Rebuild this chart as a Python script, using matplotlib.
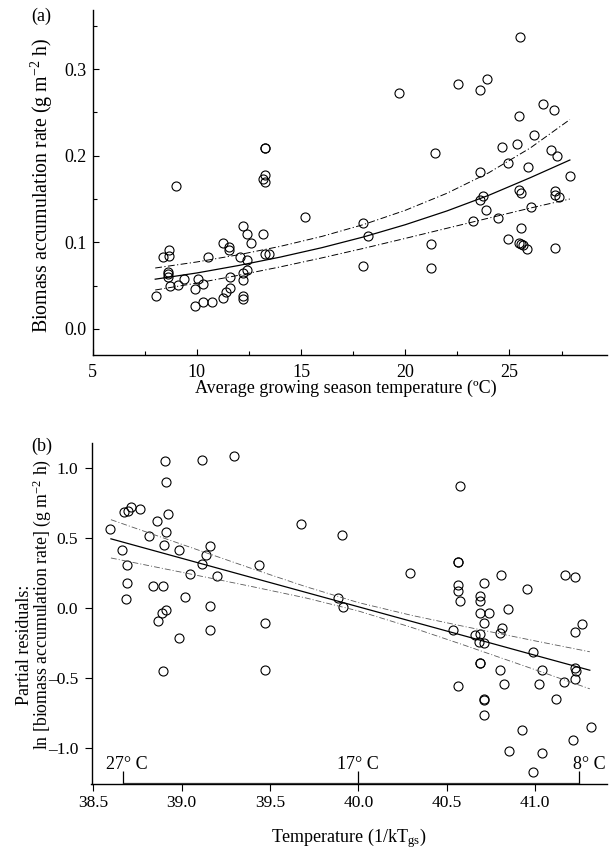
import numpy as np
import matplotlib
matplotlib.use('Agg')
import matplotlib.pyplot as plt
from matplotlib.ticker import MultipleLocator, FuncFormatter

plt.rcParams['font.family'] = ['Liberation Serif', 'DejaVu Serif']
plt.rcParams['mathtext.fontset'] = 'custom'
plt.rcParams['mathtext.rm'] = 'Liberation Serif'
plt.rcParams['mathtext.it'] = 'Liberation Serif:italic'
plt.rcParams['font.size'] = 13

# ---- panel (a): biomass accumulation rate vs growing season temperature
temp_a = [9.01, 13.28, 13.28, 13.28, 13.16, 13.28, 25.50, 19.68, 22.54, 23.93,
          23.60, 26.59, 27.12, 25.47, 26.19, 24.64, 25.37, 21.44, 26.99, 27.29,
          24.91, 23.60, 25.89, 27.92, 25.47, 25.55, 27.20, 27.20, 27.39, 23.74,
          23.60, 17.97, 18.20, 23.87, 23.23, 24.43, 26.05, 25.57, 24.91, 25.47,
          25.57, 25.66, 25.82, 27.20, 21.23, 17.97, 21.23, 15.20, 12.23, 12.40,
          13.17, 11.25, 11.53, 11.53, 12.60, 8.65, 8.36, 8.65, 10.52, 12.07,
          13.25, 13.48, 12.42, 8.63, 8.63, 8.63, 12.23, 12.40, 9.38, 10.05,
          11.60, 10.28, 8.73, 9.09, 12.23, 9.92, 11.60, 11.41, 11.25, 12.23,
          12.23, 8.04, 9.92, 10.29, 10.74]
rate_a = [0.1645, 0.209, 0.209, 0.178, 0.173, 0.170, 0.337, 0.2725, 0.283, 0.288,
          0.276, 0.260, 0.253, 0.246, 0.224, 0.210, 0.213, 0.2035, 0.207, 0.1997,
          0.192, 0.1815, 0.1865, 0.176, 0.160, 0.157, 0.159, 0.155, 0.152, 0.153,
          0.149, 0.122, 0.1075, 0.1376, 0.125, 0.128, 0.1407, 0.117, 0.104, 0.099,
          0.098, 0.097, 0.092, 0.0936, 0.098, 0.073, 0.070, 0.1287, 0.119, 0.1095,
          0.1095, 0.099, 0.095, 0.091, 0.099, 0.091, 0.083, 0.084, 0.083, 0.0825,
          0.0867, 0.0867, 0.079, 0.066, 0.0636, 0.060, 0.065, 0.068, 0.058, 0.058,
          0.0605, 0.052, 0.0497, 0.0505, 0.0566, 0.046, 0.047, 0.043, 0.036, 0.038,
          0.0347, 0.038, 0.026, 0.031, 0.031]

# fitted curve and confidence band
fit_x_a = [8.0, 10, 12, 14, 16, 18, 20, 22, 24, 26, 27.9]
fit_a = [0.0574, 0.0646, 0.0732, 0.0829, 0.0938, 0.1062, 0.1203, 0.1362, 0.1542, 0.1746, 0.195]
upper_a = [0.0703, 0.0773, 0.0856, 0.0953, 0.1068, 0.1205, 0.1369, 0.1566, 0.1802, 0.2089, 0.2417]
lower_a = [0.0449, 0.0529, 0.0619, 0.0716, 0.0820, 0.0930, 0.1045, 0.1162, 0.1279, 0.1395, 0.150]

# ---- panel (b): partial residuals vs 1/kT
inv_kt = [38.596, 38.674, 38.698, 38.715, 38.766, 38.661, 38.691, 38.691, 38.688, 38.817,
          38.859, 38.906, 39.113, 39.296, 38.911, 38.924, 38.911, 38.898, 38.985, 39.159,
          39.136, 39.117, 39.439, 38.836, 38.896, 39.047, 39.202, 39.019, 39.159, 38.911,
          39.677, 39.883, 39.911, 39.909, 38.866, 38.887, 38.985, 39.159, 39.472, 38.896,
          39.472, 40.577, 40.290, 40.562, 40.562, 40.562, 40.562, 40.577, 40.709, 40.687,
          40.687, 40.809, 40.954, 41.171, 41.225, 40.849, 40.687, 40.738, 40.709, 40.811,
          40.802, 40.537, 40.660, 40.689, 40.681, 40.709, 40.988, 41.226, 41.267, 40.687,
          40.687, 40.802, 41.038, 41.226, 41.230, 41.226, 40.564, 40.826, 41.021, 41.166,
          40.709, 40.709, 41.120, 40.709, 40.924, 41.317, 41.213, 40.851, 41.041, 40.990]
resid_b = [0.565, 0.687, 0.694, 0.725, 0.706, 0.413, 0.308, 0.179, 0.064, 0.515,
           0.622, 1.054, 1.056, 1.087, 0.899, 0.672, 0.541, 0.448, 0.415, 0.443,
           0.379, 0.315, 0.305, 0.160, 0.160, 0.243, 0.227, 0.079, 0.013, -0.012,
           0.599, 0.069, 0.007, 0.520, -0.091, -0.038, -0.217, -0.155, -0.105, -0.453,
           -0.443, 0.870, 0.248, 0.327, 0.327, 0.167, 0.124, 0.048, 0.177, 0.088,
           0.052, 0.238, 0.136, 0.238, 0.224, -0.008, -0.033, -0.038, -0.107, -0.143,
           -0.177, -0.160, -0.193, -0.184, -0.241, -0.248, -0.313, -0.174, -0.114, -0.391,
           -0.391, -0.446, -0.446, -0.427, -0.451, -0.508, -0.560, -0.544, -0.541, -0.532,
           -0.649, -0.655, -0.649, -0.763, -0.870, -0.851, -0.942, -1.023, -1.040, -1.173]

fit_x_b = [38.6, 39.0, 39.4, 39.7, 40.0, 40.3, 40.6, 41.0, 41.31]
fit_b = [0.495, 0.356, 0.217, 0.113, 0.009, -0.095, -0.199, -0.338, -0.445]
upper_b = [0.632, 0.456, 0.281, 0.154, 0.039, -0.052, -0.132, -0.235, -0.313]
lower_b = [0.358, 0.256, 0.153, 0.073, -0.021, -0.138, -0.266, -0.441, -0.578]

# temperature scale drawn along the bottom of (b)
temp_marks = [38.67, 40.0, 41.25]
temp_label_x = [38.69, 40.0, 41.31]
temp_labels = ['27\u00b0 C', '17\u00b0 C', '8\u00b0 C']

W, H = 610, 849
fig = plt.figure(figsize=(W / 100, H / 100), dpi=100)

def fx(px):
    return px / W

def fy(py):
    return 1 - py / H

dashdot = (0, (7, 2.5, 1.2, 2.5))
circ = dict(ls='none', marker='o', ms=6.5, mfc='none', mec='k', mew=0.8)

# (a)
ax1 = fig.add_axes([0.152, 0.582, 0.843, 0.406])
ax1.plot(temp_a, rate_a, **circ)
ax1.plot(fit_x_a, fit_a, color='k', lw=0.9)
ax1.plot(fit_x_a, upper_a, color='k', lw=0.7, ls=dashdot)
ax1.plot(fit_x_a, lower_a, color='k', lw=0.7, ls=dashdot)
ax1.set_xlim(5, 29.68)
ax1.set_ylim(-0.030, 0.368)
ax1.xaxis.set_major_locator(MultipleLocator(5))
ax1.xaxis.set_minor_locator(MultipleLocator(2.5))
ax1.yaxis.set_major_locator(MultipleLocator(0.1))
ax1.yaxis.set_minor_locator(MultipleLocator(0.05))
ax1.tick_params(which='both', direction='in', width=0.8)
ax1.tick_params(which='major', length=4)
ax1.tick_params(which='minor', length=3)
ax1.tick_params(axis='x', pad=6.5)
ax1.tick_params(axis='y', pad=4.5)
ax1.set_xlabel('Average growing season temperature (\u00baC)')
ax1.xaxis.set_label_coords(0.493, -0.073)

# (b)
ax2 = fig.add_axes([0.150, 0.0762, 0.845, 0.4016])
ax2.plot(inv_kt, resid_b, **circ)
ax2.plot(fit_x_b, fit_b, color='k', lw=0.9)
ax2.plot(fit_x_b, upper_b, color='0.35', lw=0.6, ls=dashdot)
ax2.plot(fit_x_b, lower_b, color='0.35', lw=0.6, ls=dashdot)
ax2.set_xlim(38.49, 41.407)
ax2.set_ylim(-1.261, 1.178)
ax2.xaxis.set_major_locator(MultipleLocator(0.5))
ax2.yaxis.set_major_locator(MultipleLocator(0.5))
ax2.yaxis.set_major_formatter(FuncFormatter(lambda v, p: f'{v:.1f}'.replace('-', '\u2013')))
ax2.tick_params(direction='out', length=5, width=0.8, labelsize=12.5)
ax2.tick_params(axis='x', pad=2.5)
ax2.tick_params(axis='y', pad=4.5)
ax2.set_xlabel('Temperature (1/kT$_{\\mathrm{gs}}$)')
ax2.xaxis.set_label_coords(0.4985, -0.122)

ax2.plot([temp_marks[0], temp_marks[-1]], [-1.25, -1.25], color='0.25', lw=0.9)
ax2.vlines(temp_marks, -1.25, -1.164, color='k', lw=0.9)
for x, lab in zip(temp_label_x, temp_labels):
    ax2.text(x, -1.152, lab, ha='center', va='baseline')

for ax in (ax1, ax2):
    for s in ('top', 'right'):
        ax.spines[s].set_visible(False)
    for s in ('left', 'bottom'):
        ax.spines[s].set_linewidth(1.0)

fig.text(fx(41.7), fy(16.7), '(a)', ha='center', va='center')
fig.text(fx(41.7), fy(446.7), '(b)', ha='center', va='center')
fig.text(fx(41.7), fy(185), 'Biomass accumulation rate (g m$^{-2}$ h)',
         rotation=90, ha='center', va='center', fontsize=14.3)
fig.text(fx(25), fy(645), 'Partial residuals:', rotation=90, ha='center', va='center')
fig.text(fx(42), fy(604), 'ln [biomass accumulation rate] (g m$^{-2}$ h)',
         rotation=90, ha='center', va='center', fontsize=12.8)

fig.savefig('out.png', dpi=100)
